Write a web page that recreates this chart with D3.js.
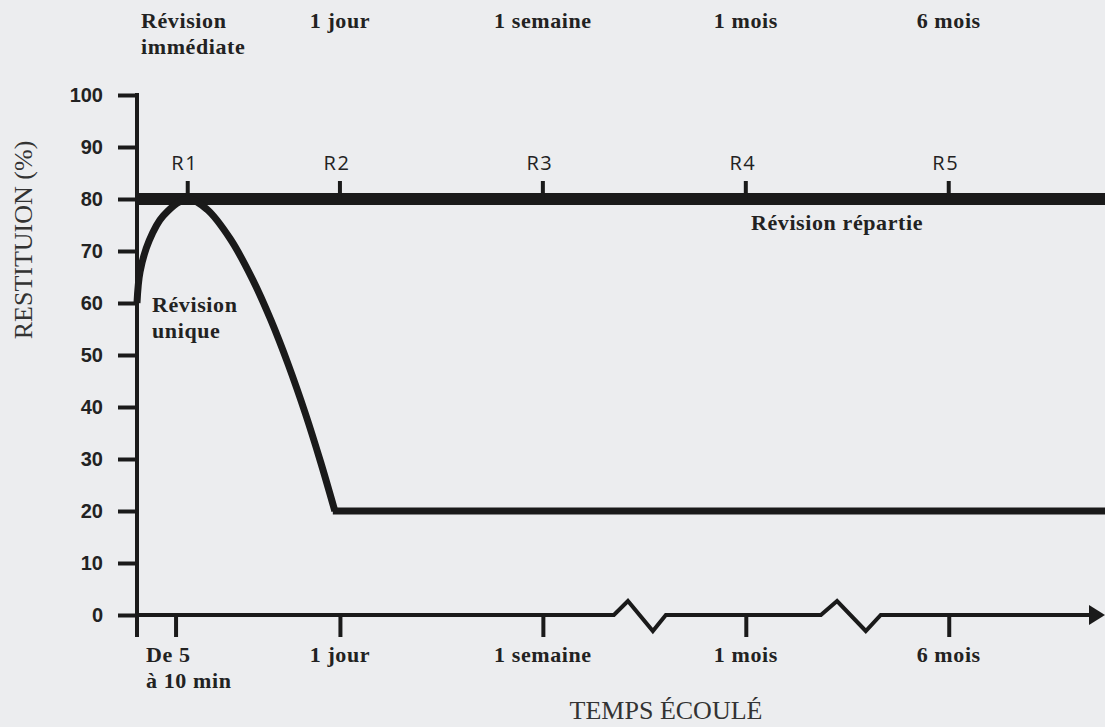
<!DOCTYPE html>
<html>
<head>
<meta charset="utf-8">
<script src="https://cdn.jsdelivr.net/npm/d3@7/dist/d3.min.js"></script>
<style>
  body { margin: 0; background: #ecedef; }
  svg { display: block; }
  .serif { font-family: "Liberation Serif", "Times New Roman", serif; }
  .lbl { font-weight: bold; font-size: 22px; letter-spacing: 0.6px; fill: #222; }
</style>
</head>
<body>
<div id="chart"></div>
<script>
// axe du temps : 1 unité = un intervalle entre deux repères
const xTickValues = [0.19, 1, 2, 3, 4];
const xTickLabels = [["De 5", "à 10 min"], ["1 jour"], ["1 semaine"], ["1 mois"], ["6 mois"]];
const yTickValues = [0, 10, 20, 30, 40, 50, 60, 70, 80, 90, 100];

// révisions R1..R5
const reviewTimes = [0.25, 1, 2, 3, 4];
const reviewLabels = ["R1", "R2", "R3", "R4", "R5"];
const topLabels = [["Révision", "immédiate"], ["1 jour"], ["1 semaine"], ["1 mois"], ["6 mois"]];

// révision répartie : la restitution reste à 80 %
const spacedLevel = 80;

// révision unique : montée puis oubli jusqu'à 20 %
const singleTimes = [0, 0.015, 0.06, 0.13, 0.25, 0.345, 0.46, 0.57, 0.66, 0.745, 0.83, 0.905, 0.975];
const singleValues = [60, 66, 72, 76.8, 80, 78, 72.3, 64.5, 56.7, 48.2, 38.7, 29.4, 20];
const singleFloor = 20;

// coupures de l'axe du temps
const breakStarts = [2.35, 3.37];
const breakEnds = [2.606, 3.665];

const width = 1105, height = 727;
const xMax = 4.77;

const svg = d3.select('#chart').append('svg')
  .attr('width', width)
  .attr('height', height);

svg.append('rect').attr('width', width).attr('height', height).attr('fill', '#ecedef');

const x = d3.scaleLinear().domain([0, xMax]).range([137, 1105]);
const y = d3.scaleLinear().domain([0, 100]).range([615, 95]);

const ink = '#1a1a1a';

// axe vertical
const yAxis = d3.axisLeft(y).tickValues(yTickValues).tickSize(19).tickPadding(15);
const gy = svg.append('g').attr('transform', `translate(${x(0)},0)`).call(yAxis);
gy.select('.domain').remove();
gy.selectAll('.tick line').attr('stroke', ink).attr('stroke-width', 4);
gy.selectAll('.tick text')
  .attr('fill', '#222')
  .style('font-family', '"Liberation Sans", Arial, sans-serif')
  .style('font-weight', 'bold')
  .style('font-size', '20px');

svg.append('line')
  .attr('x1', x(0)).attr('x2', x(0))
  .attr('y1', y(100) - 2).attr('y2', y(0) + 22)
  .attr('stroke', ink).attr('stroke-width', 4);

// axe horizontal avec coupures
const axisPts = [[0, 0]];
breakStarts.forEach((s, i) => {
  const e = breakEnds[i];
  axisPts.push([s, 0], [s + (e - s) * 0.27, -14], [s + (e - s) * 0.75, 16], [e, 0]);
});
axisPts.push([xMax - 0.07, 0]);

svg.append('path')
  .attr('d', d3.line().x(d => x(d[0])).y(d => y(0) + d[1])(axisPts))
  .attr('fill', 'none').attr('stroke', ink).attr('stroke-width', 4)
  .attr('stroke-linejoin', 'miter');

svg.append('path')
  .attr('d', `M${x(xMax)},${y(0)} L${x(xMax) - 16},${y(0) - 10} L${x(xMax) - 16},${y(0) + 10} Z`)
  .attr('fill', ink);

const xAxis = d3.axisBottom(x).tickValues(xTickValues).tickSize(22).tickFormat('');
const gx = svg.append('g').attr('transform', `translate(0,${y(0)})`).call(xAxis);
gx.select('.domain').remove();
gx.selectAll('.tick line').attr('stroke', ink).attr('stroke-width', 4);

const xl = svg.append('g').attr('class', 'serif lbl');
xTickLabels.forEach((lines, i) => {
  const first = i === 0;
  const px = first ? x(0) + 9 : x(xTickValues[i]);
  const t = xl.append('text')
    .attr('y', 662)
    .attr('text-anchor', first ? 'start' : 'middle');
  lines.forEach((s, j) => {
    t.append('tspan').attr('x', px).attr('dy', j ? 26 : 0).text(s);
  });
});

// libellés du haut
const tl = svg.append('g').attr('class', 'serif lbl');
topLabels.forEach((lines, i) => {
  const first = i === 0;
  const px = first ? x(0) + 4 : x(reviewTimes[i]);
  const t = tl.append('text')
    .attr('y', 28)
    .attr('text-anchor', first ? 'start' : 'middle');
  lines.forEach((s, j) => {
    t.append('tspan').attr('x', px).attr('dy', j ? 26 : 0).text(s);
  });
});

// révision répartie
svg.append('line')
  .attr('x1', x(0)).attr('x2', x(xMax))
  .attr('y1', y(spacedLevel)).attr('y2', y(spacedLevel))
  .attr('stroke', ink).attr('stroke-width', 12);

svg.selectAll('.rtick')
  .data(reviewTimes)
  .enter().append('line')
  .attr('x1', d => x(d)).attr('x2', d => x(d))
  .attr('y1', y(spacedLevel) - 18).attr('y2', y(spacedLevel))
  .attr('stroke', ink).attr('stroke-width', 4);

svg.selectAll('.rlabel')
  .data(reviewLabels)
  .enter().append('text')
  .attr('x', (d, i) => x(reviewTimes[i]) - 3)
  .attr('y', 170)
  .attr('text-anchor', 'middle')
  .attr('fill', '#222')
  .style('font-family', '"Open Sans", "Noto Sans", sans-serif')
  .style('font-size', '20px')
  .style('letter-spacing', '1.5px')
  .text(d => d);

// révision unique
const singleData = singleTimes.map((t, i) => [t, singleValues[i]]);
svg.append('path')
  .attr('d', d3.line().x(d => x(d[0])).y(d => y(d[1])).curve(d3.curveCatmullRom.alpha(0.5))(singleData))
  .attr('fill', 'none').attr('stroke', ink).attr('stroke-width', 7);

const lastT = singleTimes[singleTimes.length - 1];
svg.append('path')
  .attr('d', d3.line().x(d => x(d[0])).y(d => y(d[1]))([[lastT - 0.01, singleFloor], [xMax, singleFloor]]))
  .attr('fill', 'none').attr('stroke', ink).attr('stroke-width', 7);

// annotations
const ann = svg.append('g').attr('class', 'serif lbl');
const ru = ann.append('text').attr('y', 312);
ru.append('tspan').attr('x', 152).text('Révision');
ru.append('tspan').attr('x', 152).attr('dy', 26).text('unique');
ann.append('text').attr('x', 837).attr('y', 230).attr('text-anchor', 'middle').text('Révision répartie');

// titres d'axes
svg.append('text')
  .attr('class', 'serif')
  .attr('transform', `translate(32,240) rotate(-90)`)
  .attr('text-anchor', 'middle')
  .attr('fill', '#333')
  .style('font-size', '26px')
  .text('RESTITUION (%)');

svg.append('text')
  .attr('class', 'serif')
  .attr('x', 666).attr('y', 719)
  .attr('text-anchor', 'middle')
  .attr('fill', '#333')
  .style('font-size', '26px')
  .text('TEMPS ÉCOULÉ');
</script>
</body>
</html>
